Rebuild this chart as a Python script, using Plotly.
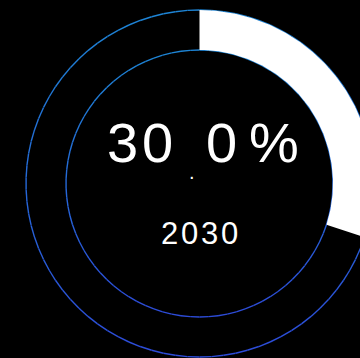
import numpy as np
import plotly.graph_objects as go

# ---- data ----
values = [30.0]          # percent
years = ["2030"]
percent_max = [100.0]

# ---- styling/geometry ----
W, H = 360, 358
CX, CY = 199.5, 183.5
R_OUT, R_IN = 173.5, 133.5
TOP_COLOR = np.array([0x1e, 0x86, 0xd6])
BOT_COLOR = np.array([0x2e, 0x4c, 0xda])
FONT = "Liberation Sans"

fig = go.Figure()

def pt(r, a_deg):
    a = np.radians(a_deg)
    return CX + r * np.sin(a), CY - r * np.cos(a)

# gradient blue circles, built as short segments
nseg = 90
for r in (R_OUT, R_IN):
    for i in range(nseg):
        a0, a1 = 360 * i / nseg, 360 * (i + 1) / nseg
        angs = np.linspace(a0, a1, 4)
        xs, ys = pt(r, angs)
        t = ((ys.mean() - (CY - r)) / (2 * r))
        c = TOP_COLOR + (BOT_COLOR - TOP_COLOR) * t
        col = "rgb(%d,%d,%d)" % tuple(c.astype(int))
        fig.add_trace(go.Scatter(x=xs, y=ys, mode="lines",
                                 line=dict(color=col, width=1.4),
                                 hoverinfo="skip", showlegend=False))

# white progress arc
sweep = 360 * values[0] / percent_max[0]
angs = np.linspace(0, sweep, 200)
xo, yo = pt(R_OUT, angs)
xi, yi = pt(R_IN, angs[::-1])
fig.add_trace(go.Scatter(x=np.concatenate([xo, xi, xo[:1]]),
                         y=np.concatenate([yo, yi, yo[:1]]),
                         mode="lines", fill="toself", fillcolor="white",
                         line=dict(width=0, color="white"),
                         hoverinfo="skip", showlegend=False))

# text (characters placed individually, like the reference's spaced digits)
txt = f"{values[0]:.1f}%"
char_x = [122.5, 157.4, 192, 221.5, 274]
big = dict(family=FONT, size=56, color="white")
for ch, x in zip(txt, char_x):
    if ch == ".":
        fig.add_annotation(x=x, y=172, text=".", showarrow=False,
                           font=dict(family=FONT, size=20, color="white"),
                           xanchor="center", yanchor="middle")
    else:
        fig.add_annotation(x=x, y=142, text=ch, showarrow=False, font=big,
                           xanchor="center", yanchor="middle")

year_x = [169, 189.3, 209.5, 229.5]
for ch, x in zip(years[0], year_x):
    fig.add_annotation(x=x, y=233, text=ch, showarrow=False,
                       font=dict(family=FONT, size=31, color="white"),
                       xanchor="center", yanchor="middle")

fig.update_layout(
    width=W, height=H,
    margin=dict(l=0, r=0, t=0, b=0),
    paper_bgcolor="black", plot_bgcolor="black",
    xaxis=dict(range=[0, W], visible=False, fixedrange=True),
    yaxis=dict(range=[H, 0], visible=False, fixedrange=True),
    showlegend=False,
)

fig.write_html("out.html", config={"displayModeBar": False},
               post_script="document.body.style.margin='0';document.body.style.background='black';")
